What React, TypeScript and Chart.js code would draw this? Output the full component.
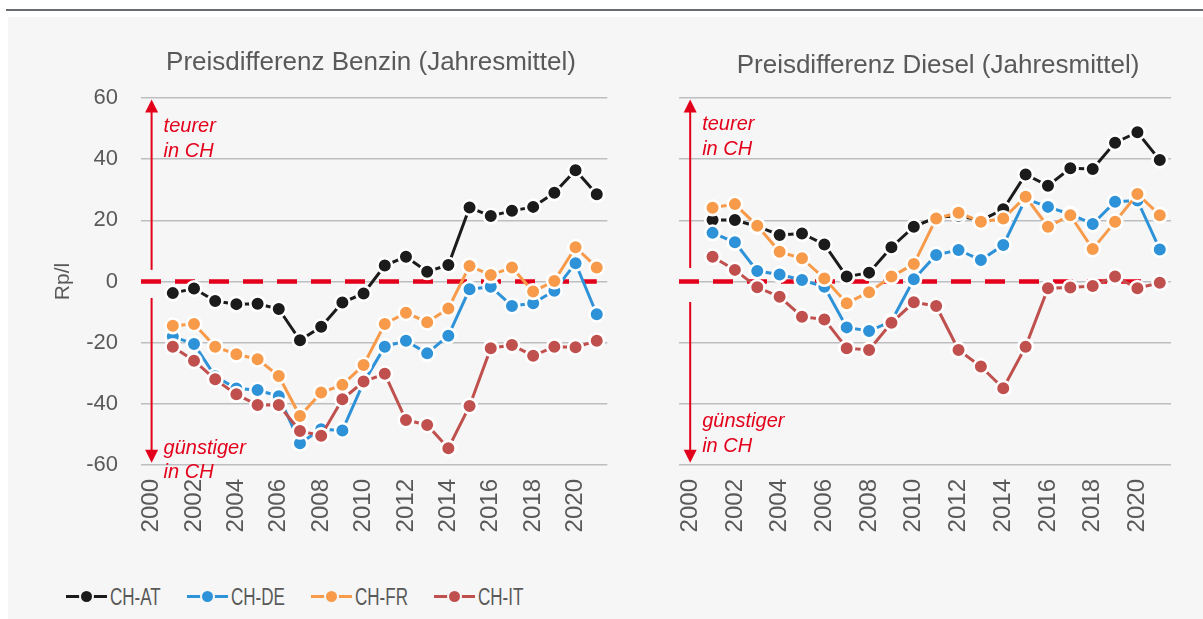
import React, { useEffect, useRef } from "react";
import { Chart, registerables } from "chart.js";
Chart.register(...registerables);

const years = ["2000","2001","2002","2003","2004","2005","2006","2007","2008","2009","2010","2011","2012","2013","2014","2015","2016","2017","2018","2019","2020","2021"];
const seriesNames = ["CH-AT", "CH-DE", "CH-FR", "CH-IT"];
const seriesColors = ["#1b1b1b", "#2e92d8", "#f79b4b", "#c0504d"];

const benzinAT = [null, -3.8, -2.3, -6.4, -7.4, -7.3, -9, -19.2, -14.8, -6.9, -3.9, 5.2, 8.1, 3.2, 5.4, 24.2, 21.4, 23.1, 24.4, 29, 36.4, 28.5];
const benzinDE = [null, -18, -20.4, -31, -35, -35.5, -37.5, -52.9, -48.3, -48.7, -33, -21.3, -19.4, -23.5, -17.7, -2.5, -1.7, -8, -7.1, -3, 6, -10.7];
const benzinFR = [null, -14.5, -13.9, -21.3, -23.8, -25.4, -30.9, -44, -36.3, -33.8, -27.3, -13.9, -10.2, -13.3, -8.8, 5.1, 2.1, 4.6, -3.3, 0.2, 11.2, 4.6];
const benzinIT = [null, -21.3, -25.9, -32, -36.9, -40.4, -40.4, -48.9, -50.4, -38.5, -32.7, -30.2, -45.3, -46.9, -54.5, -40.7, -21.8, -20.8, -24.3, -21.3, -21.5, -19.4];

const dieselAT = [null, 20.1, 20.1, 18, 15.2, 15.7, 12.1, 1.6, 2.9, 11.2, 17.9, 21, 21.5, 20, 23.6, 35, 31.3, 37, 36.8, 45.4, 48.8, 39.7];
const dieselDE = [null, 15.9, 12.8, 3.4, 2.3, 0.5, -1.7, -15, -16.2, -13, 0.7, 8.7, 10.3, 7, 11.9, 27, 24.4, 22, 18.8, 26.1, 26.5, 10.5];
const dieselFR = [null, 24.1, 25.3, 18.2, 9.7, 7.6, 1, -7.1, -3.5, 1.6, 5.7, 20.6, 22.5, 19.5, 20.6, 27.7, 17.9, 21.7, 10.6, 19.5, 28.6, 21.7];
const dieselIT = [null, 8.1, 3.8, -1.9, -5, -11.5, -12.4, -21.8, -22.4, -13.5, -6.8, -8, -22.4, -27.8, -34.9, -21.3, -2.2, -2, -1.5, 1.6, -2.2, -0.4];

const yMin = -60;
const yMax = 60;
const yStep = 20;

const RED = "#e3001b";
const TEXT = "#595959";
const FONT = '"Liberation Sans", Arial, sans-serif';

const annotPlugin = {
  id: "annot",
  beforeDatasetsDraw(chart: any, _args: any, opts: any) {
    const { ctx, chartArea } = chart;
    const x = chart.scales.x;
    const y = chart.scales.y;
    ctx.save();
    const y0 = y.getPixelForValue(0);
    ctx.strokeStyle = RED;
    ctx.lineWidth = 4.5;
    ctx.setLineDash([20, 14]);
    ctx.beginPath();
    ctx.moveTo(chartArea.left, y0);
    ctx.lineTo(x.getPixelForValue(years.length - 1), y0);
    ctx.stroke();
    ctx.setLineDash([]);
    const ax = x.getPixelForValue(0);
    const drawArrow = (from: number, to: number) => {
      const p1 = y.getPixelForValue(from);
      const p2 = y.getPixelForValue(to);
      const dir = p2 < p1 ? -1 : 1;
      ctx.strokeStyle = RED;
      ctx.fillStyle = RED;
      ctx.lineWidth = 2;
      ctx.beginPath();
      ctx.moveTo(ax, p1);
      ctx.lineTo(ax, p2 - dir * 10);
      ctx.stroke();
      ctx.beginPath();
      ctx.moveTo(ax, p2);
      ctx.lineTo(ax - 6.5, p2 - dir * 13);
      ctx.lineTo(ax + 6.5, p2 - dir * 13);
      ctx.closePath();
      ctx.fill();
    };
    drawArrow(opts.upFrom, opts.upTo);
    drawArrow(opts.downFrom, opts.downTo);
    ctx.font = "italic 20px " + FONT;
    ctx.fillStyle = RED;
    ctx.textAlign = "left";
    ctx.textBaseline = "alphabetic";
    opts.notes.forEach((n: any) => ctx.fillText(n.text, ax + 12, y.getPixelForValue(n.v)));
    ctx.font = "26px " + FONT;
    ctx.fillStyle = TEXT;
    ctx.textAlign = "center";
    ctx.fillText(opts.title, opts.titleX, opts.titleY);
    ctx.restore();
  },
};

function makeConfig(data: (number | null)[][], showY: boolean, yWidth: number, rightPad: number, annot: any): any {
  const order = [4, 3, 2, 1];
  return {
    type: "line",
    data: {
      labels: years,
      datasets: seriesNames.map((name, i) => ({
        label: name,
        data: data[i],
        borderColor: seriesColors[i],
        backgroundColor: seriesColors[i],
        borderWidth: 3,
        pointRadius: 7.3,
        pointBorderWidth: 2.6,
        pointBorderColor: "#ffffff",
        pointBackgroundColor: seriesColors[i],
        tension: 0,
        order: order[i],
      })),
    },
    options: {
      responsive: false,
      animation: false,
      layout: { padding: { left: 0, top: 81, right: rightPad, bottom: 0 } },
      plugins: {
        legend: { display: false },
        tooltip: { enabled: false },
        title: { display: false },
        annot,
      },
      scales: {
        x: {
          type: "category",
          offset: true,
          grid: { display: false, drawTicks: false, tickLength: 0 },
          border: { display: false },
          ticks: {
            autoSkip: false,
            maxRotation: 90,
            minRotation: 90,
            padding: 14,
            color: TEXT,
            font: { size: 24, family: FONT },
            callback: (_v: any, idx: number) => (idx % 2 === 0 ? years[idx] : ""),
          },
          afterFit: (s: any) => { s.height = 95; },
        },
        y: {
          min: yMin,
          max: yMax,
          grid: { color: "#bcbec0", lineWidth: 1.5, drawTicks: false, tickLength: 0 },
          border: { display: false },
          ticks: {
            display: showY,
            stepSize: yStep,
            padding: 23,
            color: TEXT,
            font: { size: 22, family: FONT },
          },
          title: {
            display: showY,
            text: "Rp/l",
            color: TEXT,
            font: { size: 21, family: FONT },
            padding: { top: 43, bottom: 0 },
          },
          afterFit: (s: any) => { s.width = yWidth; },
        },
      },
    },
    plugins: [annotPlugin],
  };
}

function ChartCanvas({ cfg, left, top, width, height }: any) {
  const ref = useRef<HTMLCanvasElement>(null);
  useEffect(() => {
    const chart = new Chart(ref.current as HTMLCanvasElement, cfg);
    return () => chart.destroy();
  }, []);
  return (
    <canvas
      ref={ref}
      width={width}
      height={height}
      style={{ position: "absolute", left, top, width, height }}
    />
  );
}

function LegendItem({ name, color, x }: any) {
  return (
    <div style={{ position: "absolute", left: x, top: 584, height: 26, width: 130 }}>
      <div style={{ position: "absolute", left: 0, top: 11, width: 41, height: 3, background: color }} />
      <div
        style={{
          position: "absolute",
          left: 13,
          top: 5,
          width: 11,
          height: 11,
          borderRadius: "50%",
          background: color,
          border: "2px solid #f6f6f6",
        }}
      />
      <span
        style={{
          position: "absolute",
          left: 44,
          top: 0,
          fontFamily: FONT,
          fontSize: 23,
          lineHeight: "26px",
          color: TEXT,
          whiteSpace: "nowrap",
          transform: "scaleX(0.74)",
          transformOrigin: "left center",
          display: "inline-block",
        }}
      >
        {name}
      </span>
    </div>
  );
}

export default function App() {
  const leftCfg = makeConfig([benzinAT, benzinDE, benzinFR, benzinIT], true, 133, 20, {
    upFrom: 3.8, upTo: 59.5, downFrom: -5.4, downTo: -59.3,
    notes: [
      { text: "teurer", v: 48.9 },
      { text: "in CH", v: 40.7 },
      { text: "günstiger", v: -56.4 },
      { text: "in CH", v: -64.2 },
    ],
    title: "Preisdifferenz Benzin (Jahresmittel)",
    titleX: 363,
    titleY: 53,
  });
  const rightCfg = makeConfig([dieselAT, dieselDE, dieselFR, dieselIT], false, 19, 18, {
    upFrom: 4.4, upTo: 59.5, downFrom: -6.7, downTo: -59.3,
    notes: [
      { text: "teurer", v: 49.5 },
      { text: "in CH", v: 41.3 },
      { text: "günstiger", v: -47.5 },
      { text: "in CH", v: -55.7 },
    ],
    title: "Preisdifferenz Diesel (Jahresmittel)",
    titleX: 278,
    titleY: 56,
  });
  const legendX = [66, 187, 311, 434];
  return (
    <div style={{ position: "absolute", left: 0, top: 0, width: 1203, height: 619, overflow: "hidden", background: "#ffffff" }}>
      <div style={{ position: "absolute", left: 6, top: 9, width: 1197, height: 2, background: "#676b70" }} />
      <div style={{ position: "absolute", left: 8, top: 17, width: 1195, height: 602, background: "#f6f6f6" }} />
      <ChartCanvas cfg={leftCfg} left={8} top={17} width={632} height={543} />
      <ChartCanvas cfg={rightCfg} left={660} top={17} width={543} height={543} />
      {seriesNames.map((n, i) => (
        <LegendItem key={n} name={n} color={seriesColors[i]} x={legendX[i]} />
      ))}
    </div>
  );
}
